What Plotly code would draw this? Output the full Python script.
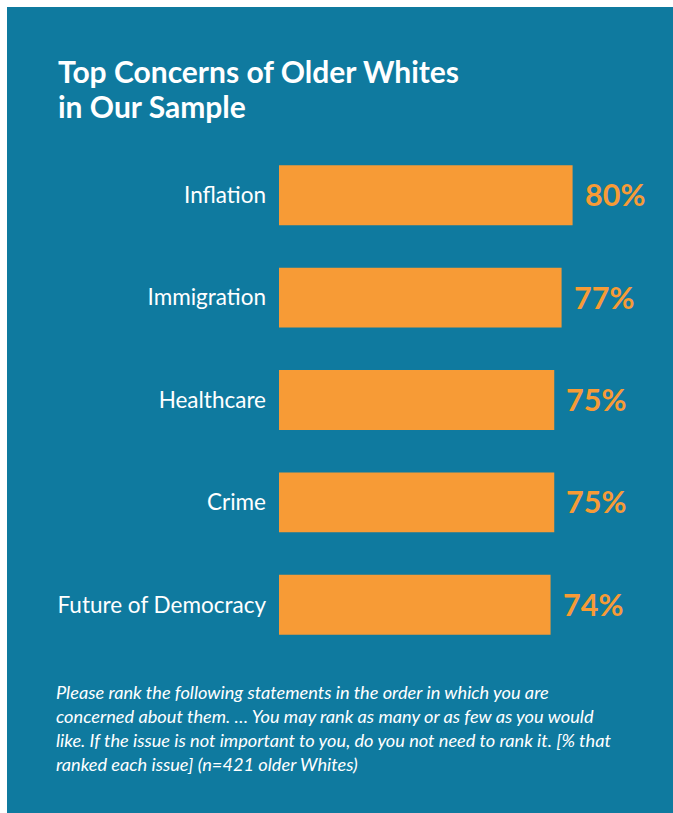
import plotly.graph_objects as go

categories = ["Inflation", "Immigration", "Healthcare", "Crime", "Future of Democracy"]
values = [80, 77, 75, 75, 74]
value_labels = ["80%", "77%", "75%", "75%", "74%"]
title_lines = ["Top Concerns of Older Whites", "in Our Sample"]
note_lines = [
    "Please rank the following statements in the order in which you are",
    "concerned about them. … You may rank as many or as few as you would",
    "like. If the issue is not important to you, do you not need to rank it. [% that",
    "ranked each issue] (n=421 older Whites)",
]

BLUE = "#0F7A9F"
ORANGE = "#F79B36"
FONT = "Lato"

W, H = 673, 813
L, R, T, B = 279, 27, 144, 157
pw = W - L - R
ph = H - T - B

def px(x):
    return (x - L) / pw

def py(y):
    return (H - B - y) / ph

fig = go.Figure()
fig.add_trace(go.Bar(
    x=values, y=categories, orientation="h",
    marker=dict(color=ORANGE, line=dict(width=0)),
    width=0.585, hoverinfo="skip",
))

annotations = []
for c, v, t in zip(categories, values, value_labels):
    annotations.append(dict(
        x=v, y=c, xref="x", yref="y", text=t, showarrow=False,
        xanchor="left", yanchor="middle", xshift=10, yshift=1,
        font=dict(family=FONT, size=30.5, color=ORANGE, weight="bold"),
    ))

for i, line in enumerate(title_lines):
    annotations.append(dict(
        x=px(56), y=py(71 + 35 * i), xref="paper", yref="paper",
        text=line, showarrow=False, xanchor="left", yanchor="middle", align="left",
        font=dict(family=FONT, size=30, color="white", weight="bold"),
    ))

for i, line in enumerate(note_lines):
    annotations.append(dict(
        x=px(54), y=py(692 + 24 * i), xref="paper", yref="paper",
        text="<i>" + line + "</i>", showarrow=False,
        xanchor="left", yanchor="middle", align="left",
        font=dict(family=FONT, size=18.2, color="white"),
    ))

fig.update_layout(
    width=W, height=H,
    margin=dict(l=L, r=R, t=T, b=B, autoexpand=False),
    paper_bgcolor="white", plot_bgcolor="rgba(0,0,0,0)",
    showlegend=False,
    annotations=annotations,
    shapes=[dict(type="rect", xref="paper", yref="paper",
                 x0=px(7), x1=px(W + 5), y0=py(H + 5), y1=py(7),
                 fillcolor=BLUE, line=dict(width=0), layer="below")],
    xaxis=dict(range=[0, 100], visible=False, fixedrange=True),
    yaxis=dict(autorange="reversed", showgrid=False, zeroline=False, showline=False,
               ticks="", ticklabelstandoff=12, fixedrange=True,
               tickfont=dict(family=FONT, size=22.5, color="white")),
)

fig.write_html("out.html", config={"displayModeBar": False},
               post_script="document.body.style.margin='0';document.body.style.overflow='hidden';")
